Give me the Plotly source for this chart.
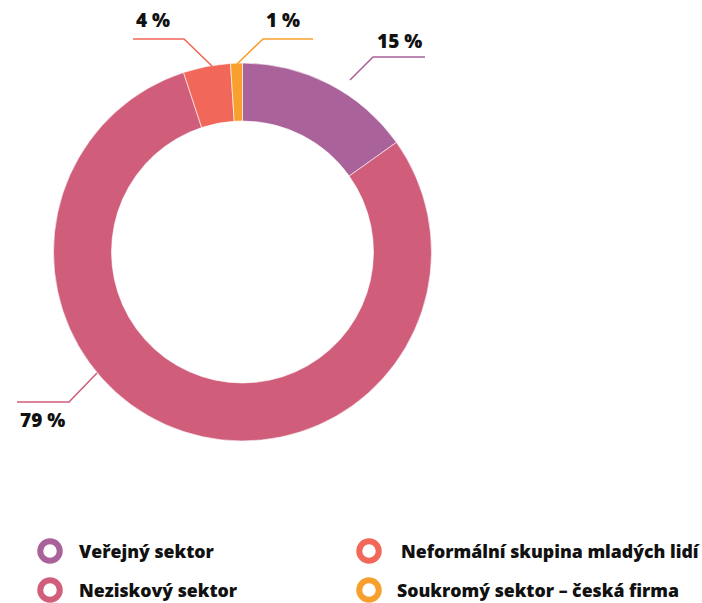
import plotly.graph_objects as go

# ---- data ----
categories = ["Veřejný sektor", "Neziskový sektor", "Neformální skupina mladých lidí", "Soukromý sektor – česká firma"]
shares = [15, 79, 4, 1]
colors = ["#A9629A", "#D05E7B", "#F1675A", "#F7A02E"]
label_texts = ["15 %", "79 %", "4 %", "1 %"]

W, H = 702, 603
FONT = "Open Sans"

def px(x):
    return x / W

def py(y):
    return 1 - y / H

# donut geometry (pixels)
cx, cy, R = 242.5, 252, 189

fig = go.Figure()
fig.add_trace(go.Pie(
    labels=categories,
    values=shares,
    hole=0.693,
    sort=False,
    direction="clockwise",
    rotation=0,
    marker=dict(colors=colors, line=dict(color="rgba(255,255,255,0.6)", width=1)),
    textinfo="none",
    hoverinfo="label+percent",
    showlegend=False,
    domain=dict(x=[px(cx - R), px(cx + R)], y=[py(cy + R), py(cy - R)]),
))

# leader lines: start, elbow, end (pixel layout positions) and label centre
leaders = [
    [(350, 80), (373, 57), (425, 57)],
    [(97, 373), (69, 402), (17, 402)],
    [(212, 66), (184, 39), (133, 39)],
    [(237, 64), (263, 39), (313, 39)],
]
label_pos = [(399, 41), (42, 420), (153, 20), (283, 20)]

shapes = []
annotations = []
for i in range(len(shares)):
    pts = leaders[i]
    path = "M {} {} L {} {} L {} {}".format(
        px(pts[0][0]), py(pts[0][1]), px(pts[1][0]), py(pts[1][1]), px(pts[2][0]), py(pts[2][1]))
    shapes.append(dict(type="path", path=path, xref="paper", yref="paper",
                       line=dict(color=colors[i], width=1.6)))
    annotations.append(dict(text=label_texts[i], x=px(label_pos[i][0]), y=py(label_pos[i][1]),
                            xref="paper", yref="paper", showarrow=False,
                            xanchor="center", yanchor="middle",
                            font=dict(family=FONT, size=19, color="#111111", weight=800)))

# legend (custom: ring markers + text)
legend_order = [0, 2, 1, 3]
legend_marker_pos = {0: (50, 551), 2: (369, 551), 1: (50, 590), 3: (369, 590)}
legend_text_x = {0: 77, 2: 399, 1: 77, 3: 395}

fig.add_trace(go.Scatter(
    x=[legend_marker_pos[i][0] for i in legend_order],
    y=[legend_marker_pos[i][1] for i in legend_order],
    mode="markers",
    marker=dict(symbol="circle-open", size=19.5, line=dict(width=6),
                color=[colors[i] for i in legend_order]),
    hoverinfo="skip",
    showlegend=False,
    xaxis="x", yaxis="y",
))
for i in legend_order:
    annotations.append(dict(text=categories[i], x=legend_text_x[i], y=legend_marker_pos[i][1],
                            xref="x", yref="y", showarrow=False,
                            xanchor="left", yanchor="middle",
                            font=dict(family=FONT, size=17.7, color="#111111", weight=800)))

fig.update_layout(
    width=W, height=H,
    margin=dict(l=0, r=0, t=0, b=0),
    paper_bgcolor="white",
    plot_bgcolor="rgba(0,0,0,0)",
    xaxis=dict(range=[0, W], visible=False, domain=[0, 1], fixedrange=True),
    yaxis=dict(range=[H, 0], visible=False, domain=[0, 1], fixedrange=True),
    shapes=shapes,
    annotations=annotations,
    showlegend=False,
)

fig.write_html("out.html", config={"displayModeBar": False},
               post_script="document.body.style.margin='0';document.body.style.overflow='hidden';")
